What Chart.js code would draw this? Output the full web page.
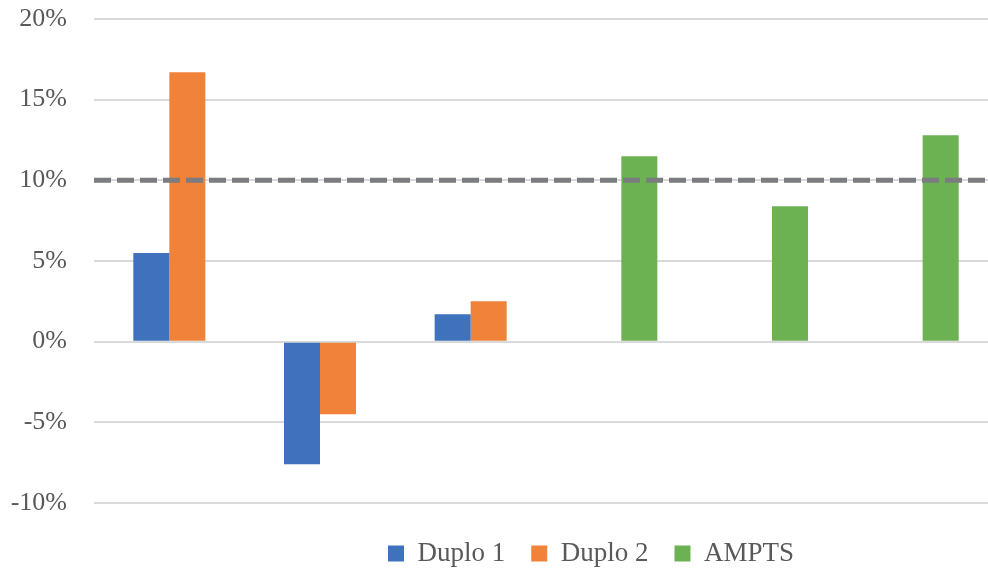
<!DOCTYPE html>
<html>
<head>
<meta charset="utf-8">
<script src="https://cdn.jsdelivr.net/npm/chart.js@4/dist/chart.umd.min.js"></script>
<style>
  html, body { margin: 0; padding: 0; background: #fff; overflow: hidden; }
  #wrap { width: 1000px; height: 574px; }
</style>
</head>
<body>
<div id="wrap"><canvas id="mainChart" width="1000" height="574"></canvas></div>
<script>
// data (percent)
const categories = ['', '', '', '', '', ''];
const duplo1 = [5.5, -7.6, 1.7, null, null, null];
const duplo2 = [16.7, -4.5, 2.5, null, null, null];
const ampts  = [null, null, null, 11.5, 8.4, 12.8];
const yTicks = [-10, -5, 0, 5, 10, 15, 20];
const limit = 10;

const serif = "'Liberation Serif', 'DejaVu Serif', serif";

// dashed 10% line across the whole plot
const limitLine = {
  id: 'limitLine',
  afterDatasetsDraw(chart) {
    const { ctx, chartArea, scales } = chart;
    const y = scales.y.getPixelForValue(limit);
    ctx.save();
    ctx.strokeStyle = '#7a7c7f';
    ctx.lineWidth = 5;
    ctx.setLineDash([17, 6]);
    ctx.beginPath();
    ctx.moveTo(chartArea.left, y);
    ctx.lineTo(chartArea.right, y);
    ctx.stroke();
    ctx.restore();
  }
};

// legend sits right of centre in the original
const legendShift = {
  id: 'legendShift',
  afterLayout(chart) {
    chart.legend.left += 92;
    chart.legend.right += 92;
    chart.legend.top += 3;
  }
};

const ctx = document.getElementById('mainChart').getContext('2d');
new Chart(ctx, {
  type: 'bar',
  data: {
    labels: categories,
    datasets: [
      { label: 'Duplo 1', data: duplo1, backgroundColor: '#3f72bd', stack: 'a' },
      { label: 'Duplo 2', data: duplo2, backgroundColor: '#f0823a', stack: 'b' },
      { label: 'AMPTS', data: ampts, backgroundColor: '#6cb152', stack: 'b' }
    ]
  },
  options: {
    responsive: false,
    animation: false,
    layout: { autoPadding: false, padding: { top: 19, right: 2, left: 0, bottom: 0 } },
    datasets: { bar: { categoryPercentage: 0.478, barPercentage: 1 } },
    plugins: {
      tooltip: { enabled: false },
      legend: {
        position: 'bottom',
        labels: {
          color: '#595959',
          font: { family: serif, size: 27 },
          boxWidth: 16, boxHeight: 16,
          padding: 26
        }
      }
    },
    scales: {
      x: {
        stacked: true,
        grid: { display: false },
        border: { display: false },
        ticks: { display: false }
      },
      y: {
        stacked: true,
        min: yTicks[0],
        max: yTicks[yTicks.length - 1],
        afterBuildTicks: s => { s.ticks = yTicks.map(v => ({ value: v })); },
        afterFit: s => { s.width = 94; s.paddingTop = 0; s.paddingBottom = 0; },
        grid: { color: '#d9d9d9', lineWidth: 2, drawTicks: false },
        border: { display: false },
        ticks: {
          color: '#595959',
          font: { family: serif, size: 26 },
          padding: 27,
          callback: v => v + '%'
        }
      }
    }
  },
  plugins: [limitLine, legendShift]
});
</script>
</body>
</html>
